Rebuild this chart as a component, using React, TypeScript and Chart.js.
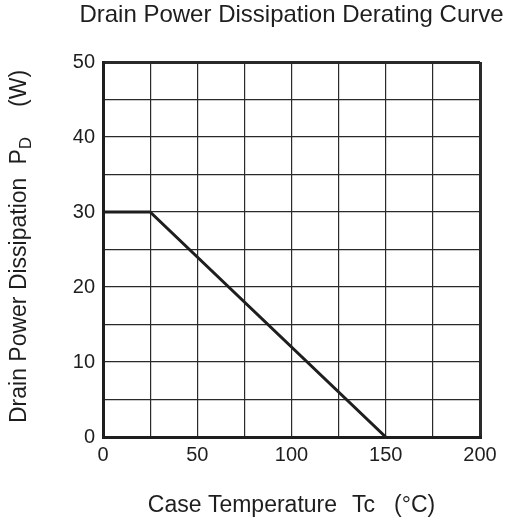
import React, { useEffect, useRef } from 'react';
import { Chart, registerables } from 'chart.js';

Chart.register(...registerables);

// Derating curve points
const caseTemp = [0, 25, 150];
const powerDissipation = [30, 30, 0];

// Labelled ticks (grid has extra minor lines in between)
const xTickLabels = [0, 50, 100, 150, 200];
const yTickLabels = [0, 10, 20, 30, 40, 50];

const chartTitle = 'Drain Power Dissipation Derating Curve';
const xTitle = ['Case Temperature', 'Tc', '(°C)'];
const yTitle = ['Drain Power Dissipation', 'P', 'D', '(W)'];

const FONT = '"Liberation Sans", Arial, Helvetica, sans-serif';
const INK = '#1e1e1e';

// draws title texts, incl. the subscript in the y-axis title
const titlesPlugin = {
  id: 'datasheetTitles',
  afterDraw(chart: Chart) {
    const { ctx, chartArea } = chart;
    const cx = (chartArea.left + chartArea.right) / 2;
    ctx.save();
    ctx.fillStyle = INK;
    ctx.textBaseline = 'middle';
    ctx.textAlign = 'center';

    ctx.font = `24px ${FONT}`;
    ctx.fillText(chartTitle, cx, 15);

    // x-axis title, pieces with wide gaps like the original
    ctx.font = `23px ${FONT}`;
    ctx.textAlign = 'left';
    const xGaps = [0, 15, 19];
    const xWidths = xTitle.map(t => ctx.measureText(t).width);
    const xTotal = xWidths.reduce((a, b) => a + b, 0) + xGaps.reduce((a, b) => a + b, 0);
    let x = cx - xTotal / 2;
    xTitle.forEach((t, i) => {
      x += xGaps[i];
      ctx.fillText(t, x, 506);
      x += xWidths[i];
    });

    // y-axis title, rotated
    const cy = (chartArea.top + chartArea.bottom) / 2;
    ctx.translate(20, cy - 3);
    ctx.rotate(-Math.PI / 2);
    const parts = [
      { text: yTitle[0], size: 23, gap: 0, dy: 0 },
      { text: yTitle[1], size: 23, gap: 13, dy: 0 },
      { text: yTitle[2], size: 17, gap: 0, dy: 6 },
      { text: yTitle[3], size: 23, gap: 30, dy: 0 },
    ];
    const widths = parts.map(p => {
      ctx.font = `${p.size}px ${FONT}`;
      return ctx.measureText(p.text).width;
    });
    const total = widths.reduce((a, b) => a + b, 0) + parts.reduce((a, p) => a + p.gap, 0);
    let px = -total / 2;
    parts.forEach((p, i) => {
      px += p.gap;
      ctx.font = `${p.size}px ${FONT}`;
      ctx.fillText(p.text, px, p.dy);
      px += widths[i];
    });
    ctx.restore();
  },
};

const edgeWidth = (min: number, max: number) => (c: any) =>
  c.tick && (c.tick.value === min || c.tick.value === max) ? 3 : 1.2;

const App: React.FC = () => {
  const canvasRef = useRef<HTMLCanvasElement | null>(null);
  const chartRef = useRef<Chart | null>(null);

  useEffect(() => {
    document.body.style.margin = '0';
    if (!canvasRef.current) return;
    const ctx = canvasRef.current.getContext('2d');
    if (!ctx) return;

    if (chartRef.current) chartRef.current.destroy();

    chartRef.current = new Chart(ctx, {
      type: 'line',
      data: {
        datasets: [
          {
            label: 'PD',
            data: caseTemp.map((t, i) => ({ x: t, y: powerDissipation[i] })),
            borderColor: INK,
            borderWidth: 3,
            pointRadius: 0,
            tension: 0,
            fill: false,
          },
        ],
      },
      options: {
        responsive: true,
        maintainAspectRatio: false,
        animation: false,
        layout: {
          padding: { top: 62, right: 26, left: 0, bottom: 0 },
        },
        plugins: {
          legend: { display: false },
          title: { display: false },
          tooltip: { enabled: false },
        },
        scales: {
          x: {
            type: 'linear',
            min: 0,
            max: 200,
            afterFit: (scale: any) => {
              scale.height = 87;
            },
            ticks: {
              stepSize: 25,
              autoSkip: false,
              maxRotation: 0,
              padding: 6,
              color: INK,
              font: { family: FONT, size: 20 },
              callback: (v: any) => (xTickLabels.includes(Number(v)) ? String(v) : ''),
            },
            grid: {
              color: '#2a2a2a',
              lineWidth: edgeWidth(0, 200),
              drawTicks: false,
            },
            border: { display: true, width: 3, color: INK },
          },
          y: {
            type: 'linear',
            min: 0,
            max: 50,
            afterFit: (scale: any) => {
              scale.width = 103;
            },
            ticks: {
              stepSize: 5,
              autoSkip: false,
              padding: 8,
              color: INK,
              font: { family: FONT, size: 20 },
              callback: (v: any) => (yTickLabels.includes(Number(v)) ? String(v) : ''),
            },
            grid: {
              color: '#2a2a2a',
              lineWidth: edgeWidth(0, 50),
              drawTicks: false,
            },
            border: { display: true, width: 3, color: INK },
          },
        },
      },
      plugins: [titlesPlugin],
    });

    return () => {
      if (chartRef.current) {
        chartRef.current.destroy();
        chartRef.current = null;
      }
    };
  }, []);

  return (
    <div style={{ position: 'relative', width: '506px', height: '524px', background: '#fff' }}>
      <canvas ref={canvasRef} />
    </div>
  );
};

export default App;
